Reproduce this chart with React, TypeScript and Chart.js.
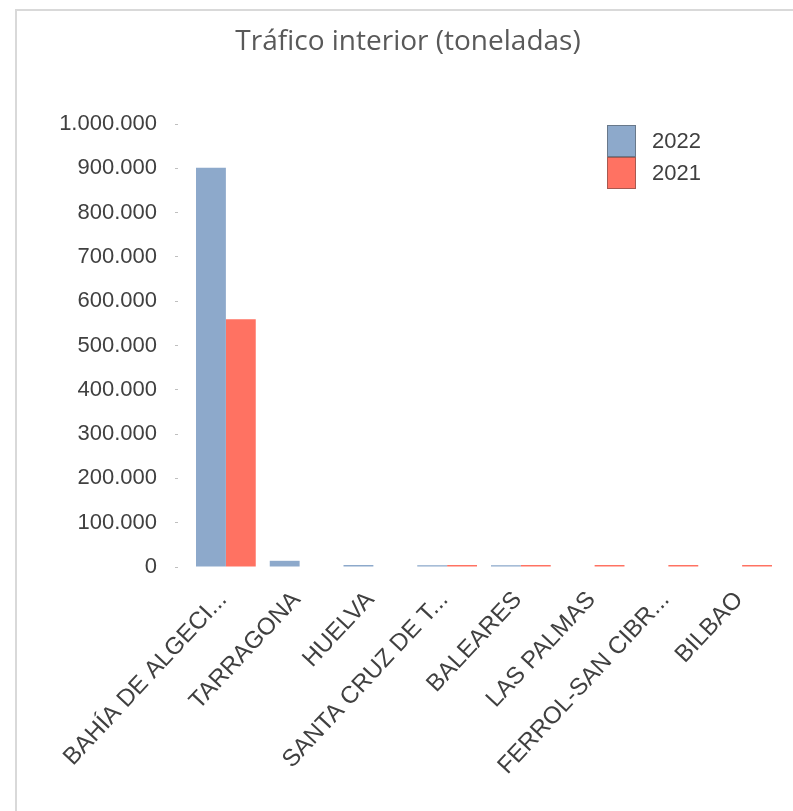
import React, { useEffect, useRef } from "react";
import { Chart, registerables } from "chart.js";

Chart.register(...registerables);

const categories = [
  "BAHÍA DE ALGECI...",
  "TARRAGONA",
  "HUELVA",
  "SANTA CRUZ DE T...",
  "BALEARES",
  "LAS PALMAS",
  "FERROL-SAN CIBR...",
  "BILBAO",
];
const values2022: (number | null)[] = [901000, 14000, 4500, 4000, 4000, null, null, null];
const values2021: (number | null)[] = [559000, null, null, 4500, 4500, 4500, 4500, 4500];
const seriesLabels = ["2022", "2021"];
const seriesColors = ["#8DA9CB", "#FF7262"];
const chartTitle = "Tráfico interior (toneladas)";
const yMin = 0;
const yMax = 1000000;
const yStep = 100000;

const fmt = (v: number) => String(Math.round(v)).replace(/\B(?=(\d{3})+(?!\d))/g, ".");

const titlePlugin = {
  id: "centerTitle",
  afterDraw(chart: any) {
    const { ctx } = chart;
    ctx.save();
    ctx.font = "28px 'Open Sans', sans-serif";
    ctx.fillStyle = "#595959";
    ctx.textAlign = "center";
    ctx.textBaseline = "middle";
    ctx.fillText(chartTitle, 408, 42);
    ctx.restore();
  },
};

const legendPlugin = {
  id: "boxLegend",
  afterDraw(chart: any) {
    const { ctx, chartArea } = chart;
    const x = chartArea.right - 172;
    let y = chartArea.top + 1;
    const bw = 29;
    const bh = 32;
    ctx.save();
    ctx.font = "22px 'Liberation Sans', Arial, sans-serif";
    ctx.textBaseline = "middle";
    ctx.textAlign = "left";
    chart.data.datasets.forEach((ds: any) => {
      ctx.fillStyle = ds.backgroundColor;
      ctx.fillRect(x, y, bw, bh);
      ctx.strokeStyle = "rgba(60,60,60,0.45)";
      ctx.lineWidth = 1;
      ctx.strokeRect(x + 0.5, y + 0.5, bw - 1, bh - 1);
      ctx.fillStyle = "#404040";
      ctx.fillText(ds.label, x + 45, y + bh / 2 + 1);
      y += bh;
    });
    ctx.restore();
  },
};

export default function App() {
  const ref = useRef<HTMLCanvasElement | null>(null);
  useEffect(() => {
    if (!ref.current) return;
    const chart = new Chart(ref.current, {
      type: "bar",
      data: {
        labels: categories,
        datasets: [
          { label: seriesLabels[0], data: values2022, backgroundColor: seriesColors[0] },
          { label: seriesLabels[1], data: values2021, backgroundColor: seriesColors[1] },
        ],
      },
      options: {
        animation: false,
        responsive: false,
        layout: { padding: { left: 0, right: 14, top: 124, bottom: 0 } },
        datasets: { bar: { categoryPercentage: 0.81, barPercentage: 1 } },
        plugins: {
          legend: { display: false },
          tooltip: { enabled: false },
          title: { display: false },
        },
        scales: {
          x: {
            grid: { display: false, drawTicks: false },
            border: { display: false },
            ticks: {
              autoSkip: false,
              maxRotation: 47,
              minRotation: 47,
              padding: 19,
              labelOffset: -3,
              color: "#404040",
              font: { family: "'Liberation Sans', Arial, sans-serif", size: 24 },
            },
            afterFit: (s: any) => {
              s.height = 244;
            },
          },
          y: {
            min: yMin,
            max: yMax,
            border: { display: false },
            grid: {
              drawOnChartArea: false,
              drawTicks: true,
              tickLength: 14,
              tickBorderDash: [3, 100],
              tickColor: "#bfbfbf",
              tickWidth: 1,
            },
            ticks: {
              stepSize: yStep,
              padding: 18,
              color: "#404040",
              font: { family: "'Liberation Sans', Arial, sans-serif", size: 22 },
              callback: (v: any) => fmt(Number(v)),
            },
            afterFit: (s: any) => {
              s.width = 189;
            },
          },
        },
      },
      plugins: [titlePlugin, legendPlugin],
    });
    return () => chart.destroy();
  }, []);
  return (
    <div style={{ position: "absolute", left: 0, top: 0, width: 793, height: 811, background: "#fff", overflow: "hidden" }}>
      <div
        style={{
          position: "absolute",
          left: 15,
          top: 9,
          width: 778,
          height: 802,
          borderTop: "2px solid #d9d9d9",
          borderLeft: "2px solid #d9d9d9",
        }}
      />
      <canvas ref={ref} width={793} height={811} style={{ position: "absolute", left: 0, top: 0 }} />
    </div>
  );
}
